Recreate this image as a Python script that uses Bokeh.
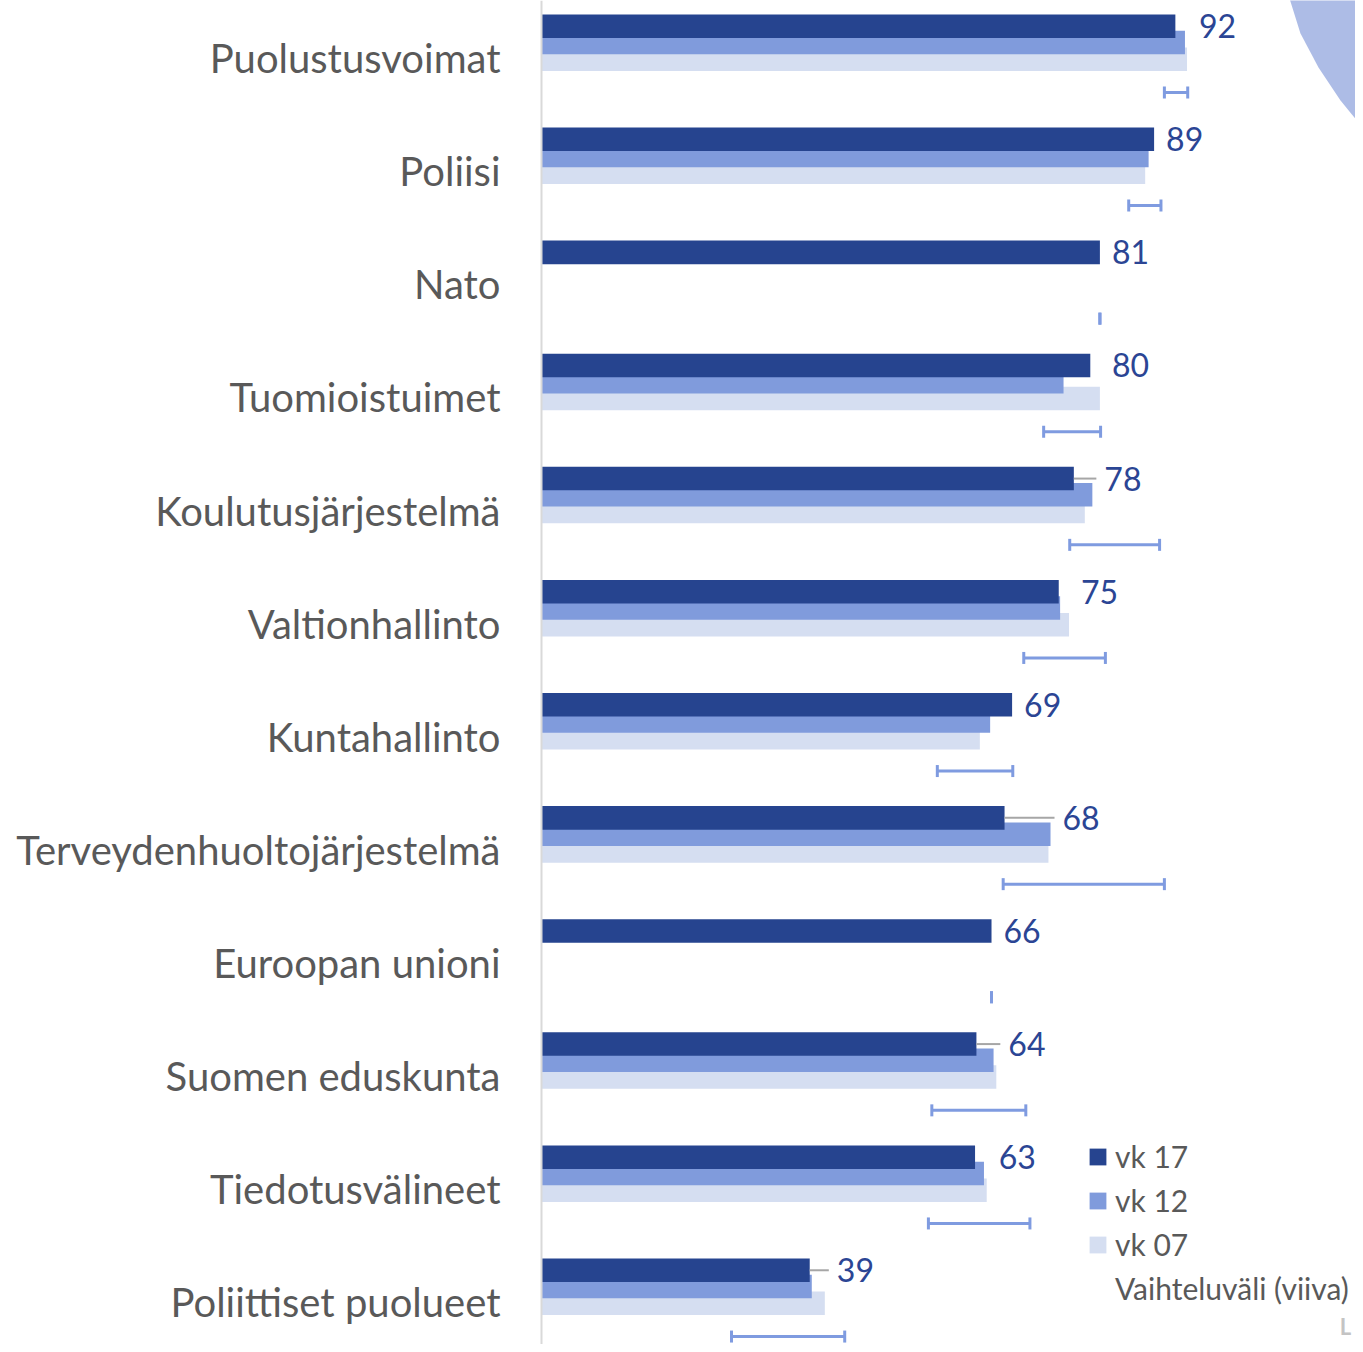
import math
from bokeh.plotting import figure
from bokeh.models import (ColumnDataSource, Range1d, Whisker, Legend, LegendItem,
                          Span, TeeHead)
from bokeh.core.properties import value
from bokeh.embed import file_html
from bokeh.resources import INLINE

nan = float("nan")

# ---------------- data ----------------
categories = ["Puolustusvoimat", "Poliisi", "Nato", "Tuomioistuimet",
              "Koulutusjärjestelmä", "Valtionhallinto", "Kuntahallinto",
              "Terveydenhuoltojärjestelmä", "Euroopan unioni",
              "Suomen eduskunta", "Tiedotusvälineet", "Poliittiset puolueet"]
vk17 = [92.4, 89.3, 81.4, 80.0, 77.6, 75.4, 68.6, 67.5, 65.6, 63.4, 63.2, 39.1]
vk12 = [93.8, 88.5, nan, 76.1, 80.3, 75.6, 65.4, 74.2, nan, 65.9, 64.5, 39.4]
vk07 = [94.1, 88.0, nan, 81.4, 79.2, 76.9, 63.9, 73.9, nan, 66.3, 64.9, 41.3]
range_low = [90.8, 85.6, 81.4, 73.2, 77.0, 70.3, 57.7, 67.3, 65.6, 56.9, 56.4, 27.7]
range_high = [94.2, 90.3, 81.4, 81.5, 90.1, 82.2, 68.7, 90.8, 65.6, 70.6, 71.2, 44.2]
value_labels = ["92", "89", "81", "80", "78", "75", "69", "68", "66", "64", "63", "39"]
series_names = ["vk 17", "vk 12", "vk 07"]
range_name = "Vaihteluväli (viiva)"

# ---------------- layout ----------------
W, H = 1355, 1344
PX = 6.86          # pixels per percentage unit
X0 = 541           # pixel position of zero
ROW = 113.1        # pixels per category row

C17, C12, C07 = "#26448f", "#809bdc", "#d5def1"
CERR = "#7f9be0"
CLAB = "#2b4594"
CTXT = "#595959"
FONT = "Lato"

n = len(categories)
rows = list(range(n))
y17 = [r + 0.227 for r in rows]
y12 = [r + 0.371 for r in rows]
y07 = [r + 0.519 for r in rows]
ycat = [r + 0.51 for r in rows]
yerr = [r + 0.813 for r in rows]

def vmax(i):
    vals = [v for v in (vk17[i], vk12[i], vk07[i]) if not math.isnan(v)]
    return max(vals)

gap = 12 / PX
lab_x = [vmax(i) + gap for i in rows]
lead_x0, lead_x1, lead_y = [], [], []
for i in rows:
    if vmax(i) - vk17[i] > 2.0:
        lead_x0.append(vk17[i])
        lead_x1.append(lab_x[i] - 8 / PX)
        lead_y.append(y17[i])

src = ColumnDataSource(dict(cat=categories, v17=vk17, v12=vk12, v07=vk07,
                            y17=y17, y12=y12, y07=y07, ycat=ycat, yerr=yerr,
                            lo=range_low, hi=range_high, lab=value_labels,
                            labx=lab_x))

p = figure(width=W, height=H,
           x_range=Range1d(-X0 / PX, (W - X0) / PX),
           y_range=Range1d(H / ROW, 0),
           output_backend="svg", toolbar_location=None,
           x_axis_type=None, y_axis_type=None, min_border=0,
           outline_line_color=None, background_fill_color="white",
           border_fill_color="white")
p.grid.visible = False

# decorative wedge in the top-right corner (pixel outline converted to data units)
wedge_px_x = [1289, 1300, 1318, 1340, 1363, 1375, 1375]
wedge_px_y = [-2, 33, 67, 100, 128, 140, -2]
p.patch([(x - X0) / PX for x in wedge_px_x], [y / ROW for y in wedge_px_y],
        fill_color="#adbce6", line_color=None)

# vertical axis line
p.add_layout(Span(location=0, dimension="height", line_color="#d9d9d9", line_width=2))

h = 0.208
r07 = p.hbar(y="y07", left=0, right="v07", height=h, source=src,
             fill_color=C07, line_color=None)
r12 = p.hbar(y="y12", left=0, right="v12", height=h, source=src,
             fill_color=C12, line_color=None)
r17 = p.hbar(y="y17", left=0, right="v17", height=h, source=src,
             fill_color=C17, line_color=None)

# leader lines
p.segment(x0=lead_x0, x1=lead_x1, y0=lead_y, y1=lead_y,
          line_color="#a6a6a6", line_width=2)

# variation range
wh = Whisker(base="yerr", lower="lo", upper="hi", dimension="width", source=src,
             line_color=CERR, line_width=3,
             lower_head=TeeHead(size=12, line_color=CERR, line_width=3),
             upper_head=TeeHead(size=12, line_color=CERR, line_width=3))
p.add_layout(wh)
rerr = p.scatter(x=[0], y=[0], size=1, fill_alpha=0, line_alpha=0)

# value labels
p.text(x="labx", y="y17", text="lab", source=src, text_font=value(FONT),
       text_font_size="32px", text_color=CLAB, text_align="left",
       text_baseline="middle")

# category labels
p.text(x=0, y="ycat", text="cat", source=src, x_offset=-41,
       text_font=value(FONT), text_font_size="40px", text_color=CTXT,
       text_align="right", text_baseline="middle")

# corner mark
p.text(x=[(1345 - X0) / PX], y=[1326 / ROW], text=["L"], text_font=value(FONT),
       text_font_size="22px", text_font_style="bold", text_color="#c4c4c4",
       text_align="center", text_baseline="middle")

legend = Legend(items=[LegendItem(label=series_names[0], renderers=[r17]),
                       LegendItem(label=series_names[1], renderers=[r12]),
                       LegendItem(label=series_names[2], renderers=[r07]),
                       LegendItem(label=range_name, renderers=[rerr])],
                location=(1087, 38), orientation="vertical",
                glyph_width=21, glyph_height=21, label_standoff=7,
                label_height=34, spacing=8, padding=0, margin=0,
                label_text_font=FONT, label_text_font_size="30px",
                label_text_color=CTXT, border_line_color=None,
                background_fill_alpha=0)
p.add_layout(legend, "center")

open("out.html", "w").write(file_html(p, INLINE))
